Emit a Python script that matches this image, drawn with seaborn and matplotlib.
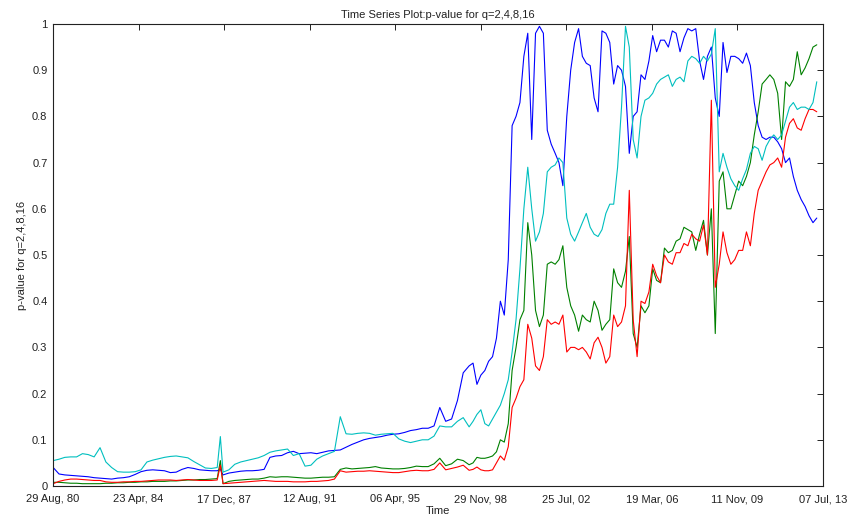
import numpy as np
import pandas as pd
import matplotlib
matplotlib.use("Agg")
import matplotlib.pyplot as plt
import seaborn as sns

# Fechas de muestreo (trimestral hasta 1998, bimestral después)
fechas = pd.DatetimeIndex(
    list(pd.date_range("1980-09-01", "1987-09-01", freq="QS-DEC"))
    + [pd.Timestamp("1987-10-20")]
    + list(pd.date_range("1987-12-01", "1998-06-01", freq="QS-DEC"))
    + list(pd.date_range("1998-08-01", "2013-04-01", freq="2MS"))
)

# p-values
azul = [
    0.040, 0.026, 0.024, 0.023, 0.022, 0.021, 0.020, 0.018, 0.017, 0.016,
    0.015, 0.017, 0.018, 0.020, 0.025, 0.031, 0.034, 0.035, 0.034, 0.033,
    0.029, 0.030, 0.036, 0.040, 0.038, 0.035, 0.034, 0.033, 0.033,
    0.036,
    0.024, 0.028, 0.030, 0.032, 0.033, 0.033, 0.034, 0.036, 0.062, 0.065,
    0.066, 0.072, 0.075, 0.070, 0.071, 0.072, 0.070, 0.073, 0.076, 0.077,
    0.078, 0.084, 0.090, 0.095, 0.100, 0.103, 0.105, 0.107, 0.110, 0.112,
    0.113, 0.116, 0.120, 0.122, 0.125, 0.125, 0.130, 0.170, 0.140, 0.145,
    0.185, 0.245, 0.260,
    0.266, 0.22, 0.24, 0.25, 0.27, 0.28, 0.32, 0.40, 0.37, 0.49,
    0.78, 0.80, 0.83, 0.93, 0.98, 0.75, 0.98, 0.995, 0.98, 0.77,
    0.74, 0.72, 0.70, 0.65, 0.80, 0.90, 0.96, 0.99, 0.93, 0.915,
    0.91, 0.84, 0.81, 0.985, 0.98, 0.96, 0.87, 0.91, 0.90, 0.865,
    0.72, 0.80, 0.81, 0.89, 0.88, 0.92, 0.975, 0.94, 0.965, 0.965,
    0.95, 0.985, 0.98, 0.94, 0.97, 0.99, 0.985, 0.99, 0.92, 0.88,
    0.93, 0.95, 0.84, 0.80, 0.96, 0.895, 0.93, 0.93, 0.925, 0.915,
    0.937, 0.91, 0.83, 0.78, 0.755, 0.75, 0.755, 0.755, 0.745, 0.73,
    0.70, 0.71, 0.67, 0.64, 0.62, 0.605, 0.585, 0.57, 0.58,
]

cian = [
    0.055, 0.058, 0.062, 0.063, 0.063, 0.070, 0.068, 0.063, 0.083, 0.052,
    0.040, 0.031, 0.030, 0.030, 0.031, 0.035, 0.052, 0.056, 0.059, 0.062,
    0.064, 0.065, 0.063, 0.061, 0.053, 0.046, 0.039, 0.038, 0.040,
    0.107,
    0.030, 0.035, 0.047, 0.052, 0.055, 0.058, 0.061, 0.066, 0.073, 0.076,
    0.078, 0.080, 0.066, 0.070, 0.043, 0.045, 0.058, 0.065, 0.070, 0.075,
    0.150, 0.113, 0.112, 0.114, 0.115, 0.114, 0.110, 0.112, 0.113, 0.114,
    0.102, 0.097, 0.094, 0.097, 0.100, 0.100, 0.108, 0.130, 0.128, 0.128,
    0.140, 0.148, 0.128,
    0.140, 0.155, 0.165, 0.135, 0.130, 0.145, 0.160, 0.175, 0.20, 0.23,
    0.29, 0.36, 0.47, 0.60, 0.69, 0.60, 0.53, 0.55, 0.59, 0.68,
    0.69, 0.695, 0.71, 0.70, 0.58, 0.545, 0.53, 0.55, 0.57, 0.59,
    0.56, 0.545, 0.54, 0.555, 0.59, 0.61, 0.61, 0.69, 0.82, 0.995,
    0.95, 0.75, 0.71, 0.80, 0.835, 0.84, 0.85, 0.87, 0.88, 0.885,
    0.89, 0.865, 0.88, 0.885, 0.875, 0.92, 0.93, 0.925, 0.915, 0.93,
    0.92, 0.935, 0.99, 0.68, 0.72, 0.69, 0.665, 0.65, 0.64, 0.665,
    0.685, 0.72, 0.735, 0.73, 0.705, 0.735, 0.75, 0.76, 0.75, 0.76,
    0.79, 0.82, 0.83, 0.815, 0.82, 0.82, 0.815, 0.83, 0.875,
]

verde = [
    0.008, 0.008, 0.007, 0.006, 0.006, 0.005, 0.005, 0.005, 0.005, 0.006,
    0.006, 0.007, 0.007, 0.008, 0.008, 0.009, 0.009, 0.010, 0.010, 0.010,
    0.011, 0.011, 0.012, 0.013, 0.013, 0.014, 0.014, 0.015, 0.016,
    0.055,
    0.005, 0.010, 0.012, 0.013, 0.014, 0.015, 0.015, 0.017, 0.020, 0.019,
    0.020, 0.020, 0.019, 0.018, 0.017, 0.017, 0.018, 0.019, 0.019, 0.020,
    0.036, 0.039, 0.037, 0.038, 0.039, 0.040, 0.042, 0.039, 0.038, 0.037,
    0.037, 0.038, 0.040, 0.043, 0.042, 0.042, 0.048, 0.060, 0.044, 0.048,
    0.058, 0.055, 0.046,
    0.050, 0.062, 0.060, 0.060, 0.062, 0.065, 0.074, 0.10, 0.095, 0.135,
    0.25, 0.30, 0.36, 0.38, 0.57, 0.50, 0.38, 0.345, 0.37, 0.48,
    0.485, 0.48, 0.49, 0.52, 0.43, 0.39, 0.37, 0.335, 0.37, 0.36,
    0.355, 0.40, 0.38, 0.337, 0.35, 0.36, 0.47, 0.44, 0.43, 0.465,
    0.54, 0.33, 0.30, 0.39, 0.375, 0.39, 0.47, 0.445, 0.44, 0.515,
    0.505, 0.51, 0.53, 0.535, 0.56, 0.555, 0.55, 0.51, 0.545, 0.575,
    0.50, 0.60, 0.33, 0.66, 0.68, 0.60, 0.60, 0.63, 0.66, 0.65,
    0.67, 0.70, 0.76, 0.81, 0.87, 0.88, 0.89, 0.88, 0.85, 0.75,
    0.875, 0.865, 0.88, 0.94, 0.89, 0.905, 0.925, 0.95, 0.955,
]

rojo = [
    0.005, 0.010, 0.013, 0.015, 0.015, 0.014, 0.013, 0.012, 0.012, 0.009,
    0.008, 0.008, 0.009, 0.009, 0.010, 0.010, 0.011, 0.012, 0.013, 0.013,
    0.013, 0.012, 0.013, 0.014, 0.013, 0.012, 0.012, 0.012, 0.013,
    0.045,
    0.005, 0.006, 0.007, 0.008, 0.009, 0.010, 0.011, 0.012, 0.011, 0.010,
    0.010, 0.010, 0.009, 0.009, 0.009, 0.010, 0.010, 0.011, 0.012, 0.015,
    0.033, 0.030, 0.031, 0.032, 0.032, 0.033, 0.032, 0.031, 0.030, 0.029,
    0.029, 0.031, 0.033, 0.034, 0.033, 0.033, 0.036, 0.050, 0.035, 0.038,
    0.041, 0.045, 0.034,
    0.036, 0.041, 0.035, 0.033, 0.033, 0.035, 0.050, 0.065, 0.056, 0.085,
    0.17, 0.19, 0.215, 0.23, 0.35, 0.32, 0.26, 0.25, 0.28, 0.36,
    0.35, 0.355, 0.35, 0.37, 0.29, 0.30, 0.30, 0.295, 0.30, 0.29,
    0.275, 0.31, 0.322, 0.30, 0.266, 0.28, 0.37, 0.345, 0.355, 0.39,
    0.64, 0.36, 0.28, 0.40, 0.395, 0.42, 0.48, 0.455, 0.44, 0.50,
    0.485, 0.48, 0.505, 0.505, 0.525, 0.52, 0.545, 0.535, 0.53, 0.565,
    0.50, 0.835, 0.43, 0.48, 0.55, 0.505, 0.48, 0.49, 0.51, 0.51,
    0.55, 0.52, 0.59, 0.64, 0.66, 0.68, 0.695, 0.70, 0.71, 0.69,
    0.755, 0.785, 0.795, 0.775, 0.77, 0.795, 0.815, 0.815, 0.81,
]

# Etiquetas del eje x
ticks_fecha = ["1980-08-29", "1984-04-23", "1987-12-17", "1991-08-12",
               "1995-04-06", "1998-11-29", "2002-07-25", "2006-03-19",
               "2009-11-11", "2013-07-07"]
ticks_texto = ["29 Aug, 80", "23 Apr, 84", "17 Dec, 87", "12 Aug, 91",
               "06 Apr, 95", "29 Nov, 98", "25 Jul, 02", "19 Mar, 06",
               "11 Nov, 09", "07 Jul, 13"]

series = {"azul": azul, "verde": verde, "rojo": rojo, "cian": cian}
colores = {"azul": (0, 0, 1), "verde": (0, 0.5, 0),
           "rojo": (1, 0, 0), "cian": (0, 0.75, 0.75)}

df = pd.concat([
    pd.DataFrame({"fecha": fechas, "p": vals, "serie": nombre})
    for nombre, vals in series.items()
], ignore_index=True)

sns.set_style("white")
plt.rcParams["font.family"] = ["Liberation Sans", "DejaVu Sans"]

fig = plt.figure(figsize=(8.53, 5.17), dpi=100)
ax = fig.add_axes([53 / 853, 1 - 486 / 517, 770 / 853, 462 / 517])

sns.lineplot(
    data=df,
    x="fecha",
    y="p",
    hue="serie",
    hue_order=list(series.keys()),
    palette=colores,
    estimator=None,
    errorbar=None,
    legend=False,
    linewidth=0.8,
    ax=ax
)

ax.set_xlim(pd.Timestamp(ticks_fecha[0]), pd.Timestamp(ticks_fecha[-1]))
ax.set_ylim(0, 1)
ax.set_xticks(pd.to_datetime(ticks_fecha))
ax.set_xticklabels(ticks_texto)
yt = np.round(np.arange(0, 1.01, 0.1), 1)
ax.set_yticks(yt)
ax.set_yticklabels(["0"] + [f"{v:g}" for v in yt[1:-1]] + ["1"])

ax.tick_params(direction="in", length=4, width=0.7, top=True, right=True,
               labelsize=8, colors="#222222")
ax.tick_params(axis="x", pad=6)
ax.tick_params(axis="y", pad=4)
for s in ax.spines.values():
    s.set_color("#222222")
    s.set_linewidth(0.8)

ax.set_title("Time Series Plot:p-value for q=2,4,8,16", fontsize=8,
             color="#222222", pad=4)
ax.set_xlabel("Time", fontsize=8, color="#222222", labelpad=1)
ax.set_ylabel("p-value for q=2,4,8,16", fontsize=8, color="#222222",
              labelpad=4)

fig.savefig("out.png", dpi=100)
